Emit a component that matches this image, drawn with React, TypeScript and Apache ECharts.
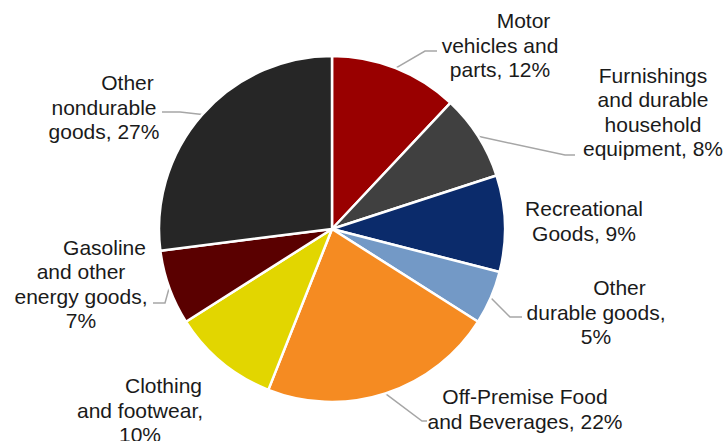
import React, { useEffect, useRef } from 'react';
import * as echarts from 'echarts';

const categories = [
  'Motor vehicles and parts',
  'Furnishings and durable household equipment',
  'Recreational Goods',
  'Other durable goods',
  'Off-Premise Food and Beverages',
  'Clothing and footwear',
  'Gasoline and other energy goods',
  'Other nondurable goods',
];
const shares = [12, 8, 9, 5, 22, 10, 7, 27];
const colors = ['#990000', '#404040', '#0b2b6b', '#7399c6', '#f58b22', '#e2d600', '#5a0000', '#262626'];

// wrapped label text ({v} = share)
const labelLines = [
  ['Motor', 'vehicles and', 'parts, {v}'],
  ['Furnishings', 'and durable', 'household', 'equipment, {v}'],
  ['Recreational', 'Goods, {v}'],
  ['Other', 'durable goods,', '{v}'],
  ['Off-Premise Food', 'and Beverages, {v}'],
  ['Clothing', 'and footwear,', '{v}'],
  ['Gasoline', 'and other', 'energy goods,', '{v}'],
  ['Other', 'nondurable', 'goods, {v}'],
];
const firstLineIndented = [true, false, false, true, false, true, true, true];

// label layout (annotation placement, px)
const labelAnchors = [[500, 45], [653, 112], [584, 221], [596, 312], [525, 409], [140, 410], [81, 284], [104, 107]];
const leaderBends: (number[][] | null)[] = [
  [[425, 51], [437, 51]],
  [[565, 155], [575, 155]],
  null,
  [[510, 317], [522, 317]],
  [[422, 421], [427, 421]],
  null,
  [[165, 303], [153, 303]],
  [[180, 112], [162, 112]],
];

const FONT = 'Arial, "Liberation Sans", sans-serif';
const TEXT_COLOR = '#1a1a1a';

export default function App() {
  const ref = useRef<HTMLDivElement>(null);
  useEffect(() => {
    if (!ref.current) return;
    const chart = echarts.init(ref.current, null, { renderer: 'svg' });
    const data = categories.map((name, i) => ({
      name,
      value: shares[i],
      itemStyle: { color: colors[i] },
      labelLine: { show: leaderBends[i] != null },
    }));
    chart.setOption({
      animation: false,
      backgroundColor: '#ffffff',
      series: [
        {
          type: 'pie',
          center: [332, 229],
          radius: 173,
          startAngle: 90,
          clockwise: true,
          avoidLabelOverlap: false,
          silent: true,
          itemStyle: { borderColor: '#ffffff', borderWidth: 2.5 },
          label: {
            show: true,
            position: 'outside',
            fontFamily: FONT,
            fontSize: 21,
            lineHeight: 24.5,
            color: TEXT_COLOR,
            align: 'center',
            formatter: (p: any) => {
              const i = p.dataIndex;
              const lines = labelLines[i].map((l) => l.replace('{v}', shares[i] + '%'));
              if (firstLineIndented[i]) lines[0] = '{s|' + lines[0] + '}';
              return lines.join('\n');
            },
            rich: {
              s: {
                fontFamily: FONT,
                fontSize: 21,
                lineHeight: 24.5,
                color: TEXT_COLOR,
                padding: [0, 0, 0, 47],
              },
            },
          },
          labelLine: {
            show: true,
            length: 10,
            length2: 10,
            lineStyle: { color: '#a6a6a6', width: 1.5 },
          },
          labelLayout: (params: any) => {
            const i = params.dataIndex;
            const [x, y] = labelAnchors[i];
            const res: any = { x, y, align: 'center', verticalAlign: 'middle' };
            const bend = leaderBends[i];
            if (bend && params.labelLinePoints) {
              res.labelLinePoints = [params.labelLinePoints[0], bend[0], bend[1]];
            }
            return res;
          },
          data,
        },
      ],
    });
    return () => chart.dispose();
  }, []);
  return (
    <div
      ref={ref}
      style={{ position: 'absolute', left: 0, top: 0, width: 726, height: 441, background: '#fff' }}
    />
  );
}
